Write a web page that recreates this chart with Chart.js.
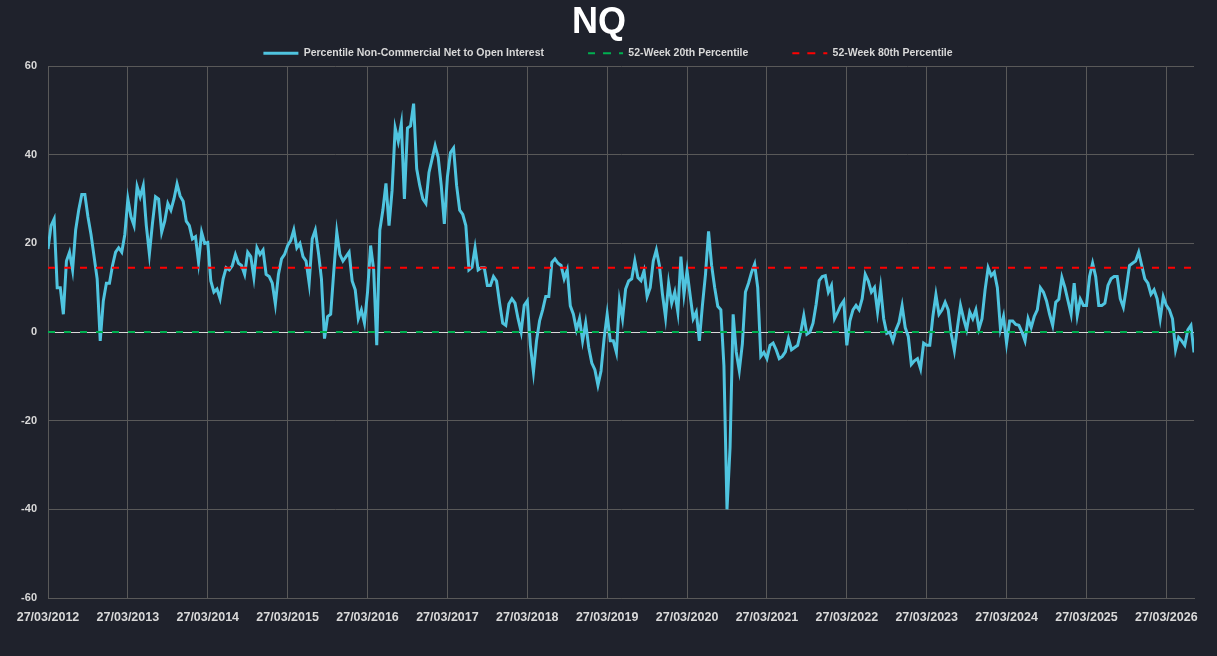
<!DOCTYPE html>
<html>
<head>
<meta charset="utf-8">
<script src="https://cdn.jsdelivr.net/npm/chart.js@4.4.1/dist/chart.umd.min.js"></script>
<style>
  html, body { margin: 0; padding: 0; background: #1f222c; }
  #wrap { width: 1217px; height: 656px; }
</style>
</head>
<body>
<div id="wrap"><canvas id="nqChart"></canvas></div>
<script>
// --- data: percentile series, one value every 2 weeks from 27/03/2012 ---
const startYear = 2012;
const pointsPerYear = 26;

const y2012 = [18.7, 24, 25.5, 10, 10, 4, 16, 18, 14, 23, 27.5, 31, 31, 26, 22, 17, 12, -2, 7, 11, 11, 15, 18, 19, 18, 22];
const y2013 = [30, 26, 24, 32.8, 30.5, 33, 24, 17.6, 24.5, 30.5, 30, 22.5, 25, 29, 27.5, 30, 33.4, 30.7, 29.5, 25, 24, 21, 21.5, 15.7, 22.5, 20];
const y2014 = [20.2, 11.5, 9, 9.7, 7.5, 12, 14.5, 14, 15, 17.5, 15.5, 15, 13, 18, 17, 12.3, 19, 17.5, 18.5, 13, 12.5, 11, 6.3, 13, 16.5, 17.5];
const y2015 = [19.5, 20.6, 23, 19, 20, 17, 16, 11, 21, 23, 18, 12, -1.5, 3.5, 4, 13.5, 22.5, 17.5, 16, 17, 18, 11.5, 9.5, 3, 5, 2];
const y2016 = [9, 19.5, 14, -3, 23, 27.5, 33.5, 24, 32, 46, 43, 47, 30, 46, 46.5, 51.5, 36.8, 33, 30, 29, 36, 39, 42, 39.4, 33, 24.4];
const y2017 = [35, 40.5, 41.5, 33, 27.5, 26.5, 24, 14, 14.6, 19, 14, 14.5, 14.5, 10.5, 10.5, 12.5, 11.5, 6.5, 2, 1.5, 6.3, 7.5, 6.5, 3, 0, 6];
const y2018 = [7, -3, -9, -2, 2.5, 5, 8, 8, 15.7, 16.5, 15.5, 15, 12, 14, 5.9, 4, 0.5, 3, -2, 2, -3.5, -7, -8.5, -12, -8.8, -1.5];
const y2019 = [4, -2, -2, -4.6, 7, 3, 9.7, 11.5, 12, 16, 12.3, 11.6, 13.8, 8, 10, 16, 18.5, 15, 8.5, 3.3, 11, 6.5, 9, 4.5, 17, 8.5];
const y2020 = [13.8, 8.3, 3, 4.5, -2, 6, 13, 22.7, 15, 10, 5.8, 5, -7.6, -40, -26, 4, -4.5, -8.7, -2.7, 9, 11, 13.5, 15.3, 10, -5.5, -4.6];
const y2021 = [-6, -3, -2.5, -4, -6, -5.5, -4.5, -1.5, -4, -3.5, -3, 0, 3.7, -0.5, 0, 2, 6.2, 11.6, 12.5, 12.7, 9, 10.5, 3, 4.4, 6, 7];
const y2022 = [-3, 2.5, 5, 6, 5, 7.5, 13, 11.5, 9, 10, 4.5, 10, 3, -0.3, 0, -2, 0.5, 2.2, 5.9, 1, -1, -7.3, -6.5, -6, -8.3, -2.5];
const y2023 = [-3, -3, 3.5, 8.4, 4, 5, 6.7, 5, -0.5, -4.2, 1, 6, 3, 0.5, 4.5, 3, 5, 0.7, 3, 9.5, 14.5, 12.7, 13.5, 10, 0.7, 3.5];
const y2024 = [-2.5, 2.5, 2.5, 1.7, 1.5, 0, -2, 3, 1, 3.5, 5, 10, 9, 7, 4, 1.5, 6.7, 7.4, 12.3, 10, 7, 4, 11, 3.7, 7.4, 6];
const y2025 = [6, 12.5, 15.5, 12.5, 6, 6, 6.5, 10.5, 12, 12.5, 12.5, 7.5, 5.6, 10, 15, 15.5, 16, 18, 15, 12, 11, 8.5, 9.5, 7.5, 3, 8];
const y2026 = [6, 5, 3, -4, -1.2, -2, -3, 0.5, 1.5, -4.6];

const percentile20 = 0;
const percentile80 = 14.5;

const yTicks = [-60, -40, -20, 0, 20, 40, 60];

const chartTitle = 'NQ';
const seriesNames = [
    'Percentile Non-Commercial Net to Open Interest',
    '52-Week 20th Percentile',
    '52-Week 80th Percentile'
];

// --- build points ---
const allValues = [].concat(y2012, y2013, y2014, y2015, y2016, y2017, y2018,
    y2019, y2020, y2021, y2022, y2023, y2024, y2025, y2026);
const mainPoints = allValues.map((v, i) => ({ x: i / pointsPerYear, y: v }));
const xMax = (allValues.length - 1) / pointsPerYear;

const gridGrey = '#595959';
const textGrey = '#d9d9d9';

Chart.defaults.font.family = "'Liberation Sans', Arial, sans-serif";
Chart.defaults.color = textGrey;

// title drawn by hand so the legend can sit right under it
const titlePlugin = {
    id: 'nqTitle',
    afterInit(chart) {
        // legend keeps wide item spacing, but not the tall box that comes with it
        const legend = chart.legend;
        const fit = legend.fit;
        legend.fit = function () {
            fit.call(this);
            this.height = 62;
        };
        // centre legend on the whole canvas, not on the padded area
        const draw = legend.draw;
        legend.draw = function (area) {
            const ctx = this.ctx;
            ctx.save();
            ctx.translate(11, 0);
            draw.call(this, area);
            ctx.restore();
        };
    },
    afterDraw(chart) {
        const ctx = chart.ctx;
        ctx.save();
        ctx.fillStyle = '#ffffff';
        ctx.font = "bold 36px 'Liberation Sans', Arial, sans-serif";
        ctx.textAlign = 'center';
        ctx.textBaseline = 'middle';
        ctx.fillText(chartTitle, 599, 23);
        ctx.restore();
    }
};

new Chart(document.getElementById('nqChart'), {
    type: 'line',
    data: {
        datasets: [
            {
                label: seriesNames[0],
                data: mainPoints,
                borderColor: '#4fc4df',
                backgroundColor: '#4fc4df',
                borderWidth: 3,
                pointRadius: 0,
                tension: 0,
                order: 1
            },
            {
                label: seriesNames[1],
                data: [{ x: 0, y: percentile20 }, { x: xMax, y: percentile20 }],
                borderColor: '#00b050',
                backgroundColor: '#00b050',
                borderWidth: 2,
                borderDash: [7, 9],
                pointRadius: 0,
                order: 0
            },
            {
                label: seriesNames[2],
                data: [{ x: 0, y: percentile80 }, { x: xMax, y: percentile80 }],
                borderColor: '#ff0000',
                backgroundColor: '#ff0000',
                borderWidth: 2,
                borderDash: [7, 9],
                pointRadius: 0,
                order: 0
            }
        ]
    },
    options: {
        responsive: true,
        maintainAspectRatio: false,
        devicePixelRatio: 1,
        animation: false,
        layout: { padding: { left: 0, right: 23, top: 4, bottom: 0 } },
        plugins: {
            tooltip: { enabled: false },
            title: { display: false },
            legend: {
                labels: {
                    color: textGrey,
                    font: { size: 10.5, weight: 'bold' },
                    boxWidth: 35,
                    boxHeight: 0,
                    padding: 44,
                    sort: (a, b) => a.datasetIndex - b.datasetIndex
                }
            }
        },
        scales: {
            x: {
                type: 'linear',
                min: 0,
                max: xMax,
                afterFit: (scale) => { scale.height = 58; },
                grid: { color: gridGrey, drawTicks: false },
                border: { color: gridGrey },
                ticks: {
                    stepSize: 1,
                    includeBounds: false,
                    autoSkip: false,
                    maxRotation: 0,
                    padding: 12,
                    color: textGrey,
                    font: { size: 12.5, weight: 'bold' },
                    callback: (v) => '27/03/' + (startYear + v)
                }
            },
            y: {
                min: yTicks[0],
                max: yTicks[yTicks.length - 1],
                afterFit: (scale) => { scale.width = 48; },
                afterBuildTicks: (scale) => { scale.ticks = yTicks.map(v => ({ value: v })); },
                grid: {
                    color: (ctx) => ctx.tick && ctx.tick.value === 0 ? '#d9d9d9' : gridGrey,
                    drawTicks: false
                },
                border: { color: gridGrey },
                ticks: {
                    padding: 11,
                    color: textGrey,
                    font: { size: 11, weight: 'bold' }
                }
            }
        }
    },
    plugins: [titlePlugin]
});
</script>
</body>
</html>
